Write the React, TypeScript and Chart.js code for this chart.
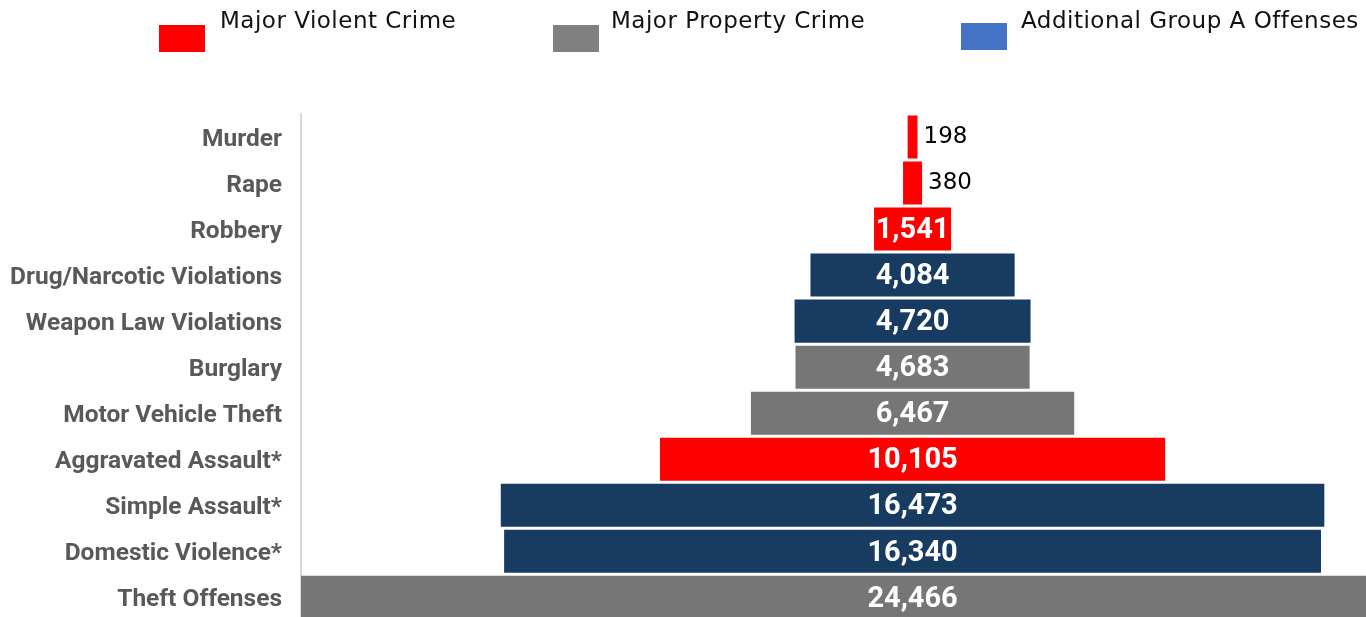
import React, { useEffect, useRef } from "react";
import { Chart, registerables } from "chart.js";

Chart.register(...registerables);

const categories = [
  "Murder",
  "Rape",
  "Robbery",
  "Drug/Narcotic Violations",
  "Weapon Law Violations",
  "Burglary",
  "Motor Vehicle Theft",
  "Aggravated Assault*",
  "Simple Assault*",
  "Domestic Violence*",
  "Theft Offenses",
];
const values = [198, 380, 1541, 4084, 4720, 4683, 6467, 10105, 16473, 16340, 24466];
const groups = [0, 0, 0, 2, 2, 1, 1, 0, 2, 2, 1];
const groupBarColors = ["#FF0000", "#767676", "#173B61"];
const legendLabels = ["Major Violent Crime", "Major Property Crime", "Additional Group A Offenses"];
const legendColors = ["#FF0000", "#808080", "#4472C4"];
const xMin = -12233;
const xMax = 9070;

const labelPlugin = {
  id: "funnelLabels",
  afterDatasetsDraw(chart: any) {
    const ctx = chart.ctx;
    const meta = chart.getDatasetMeta(0);
    ctx.save();
    meta.data.forEach((bar: any, i: number) => {
      const v = values[i];
      const text = v.toLocaleString("en-US");
      const left = Math.min(bar.x, bar.base);
      const right = Math.max(bar.x, bar.base);
      if (right - left < 60) {
        ctx.font = "23px 'DejaVu Sans'";
        ctx.fillStyle = "#000000";
        ctx.textAlign = "left";
        ctx.textBaseline = "middle";
        ctx.fillText(text, right + 6, bar.y);
      } else {
        ctx.font = "bold 29px Roboto";
        ctx.fillStyle = "#FFFFFF";
        ctx.textAlign = "center";
        ctx.textBaseline = "middle";
        ctx.fillText(text, (left + right) / 2, bar.y + 2);
      }
    });
    ctx.restore();
  },
};

const legendPos = [
  { box: [159, 25], text: 220 },
  { box: [553, 25], text: 611 },
  { box: [961, 23], text: 1021 },
];

const legendPlugin = {
  id: "topLegend",
  afterDraw(chart: any) {
    const ctx = chart.ctx;
    ctx.save();
    legendLabels.forEach((lab, i) => {
      const p = legendPos[i];
      ctx.fillStyle = legendColors[i];
      ctx.fillRect(p.box[0], p.box[1], 46, 27);
      ctx.fillStyle = "#111111";
      ctx.font = "23px 'DejaVu Sans'";
      (ctx as any).letterSpacing = "0.5px";
      ctx.textAlign = "left";
      ctx.textBaseline = "alphabetic";
      ctx.fillText(lab, p.text, 28);
    });
    ctx.restore();
  },
};

export default function App() {
  const ref = useRef<HTMLCanvasElement>(null);
  useEffect(() => {
    let chart: Chart | null = null;
    let cancelled = false;
    const make = () => {
      if (cancelled || !ref.current) return;
      chart = new Chart(ref.current, {
        type: "bar",
        data: {
          labels: categories,
          datasets: [
            {
              data: values.map((v) => [-v / 2, v / 2]) as any,
              backgroundColor: values.map((_, i) => groupBarColors[groups[i]]),
              borderWidth: 0,
              barPercentage: 0.935,
              categoryPercentage: 1,
            },
          ],
        },
        options: {
          indexAxis: "y",
          responsive: false,
          animation: false,
          layout: { padding: { top: 114, left: 0, right: 0, bottom: 0 } },
          plugins: { legend: { display: false }, tooltip: { enabled: false } },
          scales: {
            x: { display: false, min: xMin, max: xMax },
            y: {
              grid: { display: false, drawTicks: false },
              border: { display: true, color: "#D9D9D9", width: 2 },
              ticks: {
                padding: 19,
                labelOffset: 3,
                color: "#595959",
                font: { family: "Roboto", weight: "bold", size: 24.5 },
              },
              afterFit(scale: any) {
                scale.width = 301;
              },
            },
          },
        },
        plugins: [labelPlugin, legendPlugin],
      });
    };
    const fontsReady = (document as any).fonts
      ? Promise.all([
          (document as any).fonts.load("bold 24px Roboto"),
          (document as any).fonts.load("22px 'DejaVu Sans'"),
        ]).catch(() => null)
      : Promise.resolve(null);
    fontsReady.then(make);
    return () => {
      cancelled = true;
      if (chart) chart.destroy();
    };
  }, []);
  return (
    <div
      style={{
        position: "fixed",
        left: 0,
        top: 0,
        width: 1366,
        height: 617,
        overflow: "hidden",
        background: "#FFFFFF",
      }}
    >
      <canvas ref={ref} width={1366} height={654} style={{ display: "block" }} />
    </div>
  );
}
